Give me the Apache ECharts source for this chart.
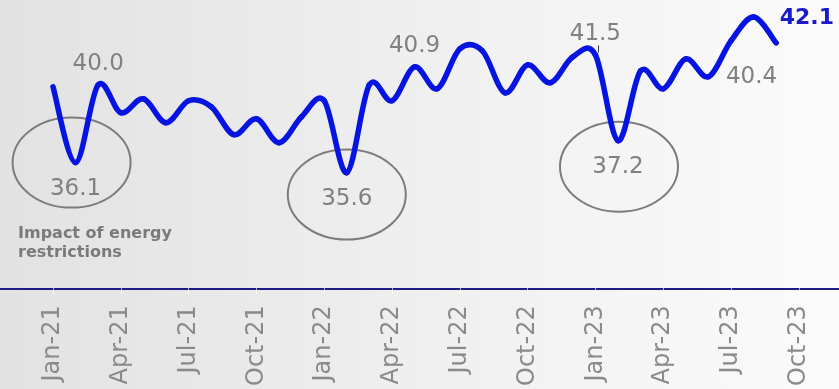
<!DOCTYPE html>
<html>
<head>
<meta charset="utf-8">
<script src="https://cdn.jsdelivr.net/npm/echarts@6/dist/echarts.min.js"></script>
<style>
  html, body { margin: 0; padding: 0; background: #fff; }
  #chart { width: 839px; height: 389px; }
</style>
</head>
<body>
<div id="chart"></div>
<script>
// Monthly index readings, Jan-21 .. Sep-23
const months = [
  'Jan-21','Feb-21','Mar-21','Apr-21','May-21','Jun-21','Jul-21','Aug-21','Sep-21','Oct-21','Nov-21','Dec-21',
  'Jan-22','Feb-22','Mar-22','Apr-22','May-22','Jun-22','Jul-22','Aug-22','Sep-22','Oct-22','Nov-22','Dec-22',
  'Jan-23','Feb-23','Mar-23','Apr-23','May-23','Jun-23','Jul-23','Aug-23','Sep-23'
];
const values = [
  39.9, 36.1, 40.0, 38.6, 39.3, 38.1, 39.2, 38.9, 37.5, 38.3, 37.1, 38.4,
  39.2, 35.6, 40.0, 39.2, 40.9, 39.8, 41.8, 41.7, 39.6, 41.0, 40.1, 41.4,
  41.5, 37.2, 40.7, 39.8, 41.3, 40.4, 42.2, 43.4, 42.1
];
const tickLabels = [
  'Jan-21','Apr-21','Jul-21','Oct-21','Jan-22','Apr-22',
  'Jul-22','Oct-22','Jan-23','Apr-23','Jul-23','Oct-23'
];
// Which readings get a value callout
const labelAbove = ['Mar-21', 'May-22', 'Jan-23'];
const labelBelow = ['Feb-21', 'Feb-22', 'Feb-23'];
const labelRight = ['Jun-23'];
const latestMonth = 'Sep-23';
const circledDips = ['Feb-21', 'Feb-22', 'Feb-23'];
const noteText = 'Impact of energy\nrestrictions';

const MON = ['Jan','Feb','Mar','Apr','May','Jun','Jul','Aug','Sep','Oct','Nov','Dec'];
function monthPos(lbl) {
  const parts = lbl.split('-');
  return (Number(parts[1]) - 21) * 12 + MON.indexOf(parts[0]);
}

const FONT = '"DejaVu Sans", Verdana, sans-serif';
const GREY = '#808080';
const LINE_BLUE = '#0514e0';

const lineData = months.map(function (m, i) { return [monthPos(m), values[i]]; });

// Callout points (only the annotated months)
const calloutData = [];
months.forEach(function (m, i) {
  let label = null;
  if (labelAbove.indexOf(m) >= 0) {
    label = { show: true, position: 'top', distance: 9 };
  } else if (labelBelow.indexOf(m) >= 0) {
    label = { show: true, position: 'bottom', distance: 14 };
  } else if (labelRight.indexOf(m) >= 0) {
    label = { show: true, position: 'right', distance: 17 };
  } else if (m === latestMonth) {
    label = {
      show: true, position: [4, -24], align: 'left', verticalAlign: 'middle',
      color: '#1a1acc', fontWeight: 'bold', fontSize: 22
    };
  }
  if (label) calloutData.push({ value: [monthPos(m), values[i]], label: label });
});

// Smoothed line: cubic segments with tangents taken from neighbouring readings
function renderSegment(params, api) {
  const i = params.dataIndex;
  const n = lineData.length;
  if (i >= n - 1) return null;
  const P = function (k) {
    k = Math.max(0, Math.min(n - 1, k));
    return api.coord(lineData[k]);
  };
  const p0 = P(i - 1), p1 = P(i), p2 = P(i + 1), p3 = P(i + 2);
  const t = 1 / 6;
  return {
    type: 'bezierCurve',
    shape: {
      x1: p1[0], y1: p1[1], x2: p2[0], y2: p2[1],
      cpx1: p1[0] + (p2[0] - p0[0]) * t, cpy1: p1[1] + (p2[1] - p0[1]) * t,
      cpx2: p2[0] - (p3[0] - p1[0]) * t, cpy2: p2[1] - (p3[1] - p1[1]) * t
    },
    style: { stroke: LINE_BLUE, lineWidth: 5.5, fill: null, lineCap: 'round' }
  };
}

const chart = echarts.init(document.getElementById('chart'), null, { renderer: 'canvas' });

const tickPositions = tickLabels.map(monthPos);

const option = {
  animation: false,
  backgroundColor: {
    type: 'linear', x: 0, y: 0, x2: 1, y2: 0,
    colorStops: [
      { offset: 0, color: '#e2e2e2' },
      { offset: 0.5, color: '#efefef' },
      { offset: 1, color: '#fbfbfb' }
    ]
  },
  grid: { left: 0, right: 0, top: 0, bottom: 100, containLabel: false },
  xAxis: {
    type: 'value',
    min: -2.345,
    max: 34.78,
    splitLine: { show: false },
    axisLine: { show: true, onZero: false, lineStyle: { color: '#1c1c86', width: 2 } },
    axisTick: {
      show: true, length: 6,
      customValues: tickPositions,
      lineStyle: { color: 'rgba(255,255,255,0.8)', width: 1 }
    },
    axisLabel: {
      show: true,
      customValues: tickPositions,
      rotate: 90,
      margin: 17,
      color: '#8a8a8a',
      fontFamily: FONT,
      fontSize: 24,
      formatter: function (v) {
        const k = tickPositions.indexOf(Math.round(v));
        return k >= 0 ? tickLabels[k] : '';
      }
    }
  },
  yAxis: {
    type: 'value',
    min: 29.8,
    max: 44.25,
    show: false,
    splitLine: { show: false }
  },
  series: [
    {
      type: 'custom',
      name: 'index',
      data: lineData,
      encode: { x: 0, y: 1 },
      clip: false,
      silent: true,
      z: 3,
      renderItem: renderSegment
    },
    {
      type: 'scatter',
      data: calloutData,
      symbol: 'circle',
      symbolSize: 1,
      itemStyle: { color: 'rgba(0,0,0,0)', opacity: 1 },
      silent: true,
      z: 4,
      label: {
        show: true,
        color: GREY,
        fontFamily: FONT,
        fontSize: 23,
        formatter: function (p) { return p.value[1].toFixed(1); }
      },
      labelLayout: { hideOverlap: false },
      markLine: {
        silent: true,
        symbol: 'none',
        label: { show: false },
        lineStyle: { color: '#333', width: 1, type: 'solid', opacity: 1 },
        data: [[
          { coord: [monthPos('Jan-23') + 0.11, 41.62] },
          { coord: [monthPos('Jan-23') + 0.11, 41.97] }
        ]]
      }
    }
  ]
};

chart.setOption(option);

// Grey rings around the three sharp dips, plus the explanatory note
const ringOffsets = { 'Feb-21': [-4, 0], 'Feb-22': [0, 22], 'Feb-23': [1, 26] };
const graphics = circledDips.map(function (m) {
  const i = months.indexOf(m);
  const p = chart.convertToPixel({ gridIndex: 0 }, lineData[i]);
  const off = ringOffsets[m] || [0, 0];
  return {
    type: 'ellipse',
    silent: true,
    z: 1,
    shape: { cx: p[0] + off[0], cy: p[1] + off[1], rx: 59, ry: 45 },
    style: { fill: 'none', stroke: '#7c7c7c', lineWidth: 2 }
  };
});
graphics.push({
  type: 'text',
  left: 18,
  top: 224,
  silent: true,
  style: {
    text: noteText,
    fill: '#7a7a7a',
    font: 'bold 16px ' + FONT,
    lineHeight: 19
  }
});
chart.setOption({ graphic: graphics });
</script>
</body>
</html>
